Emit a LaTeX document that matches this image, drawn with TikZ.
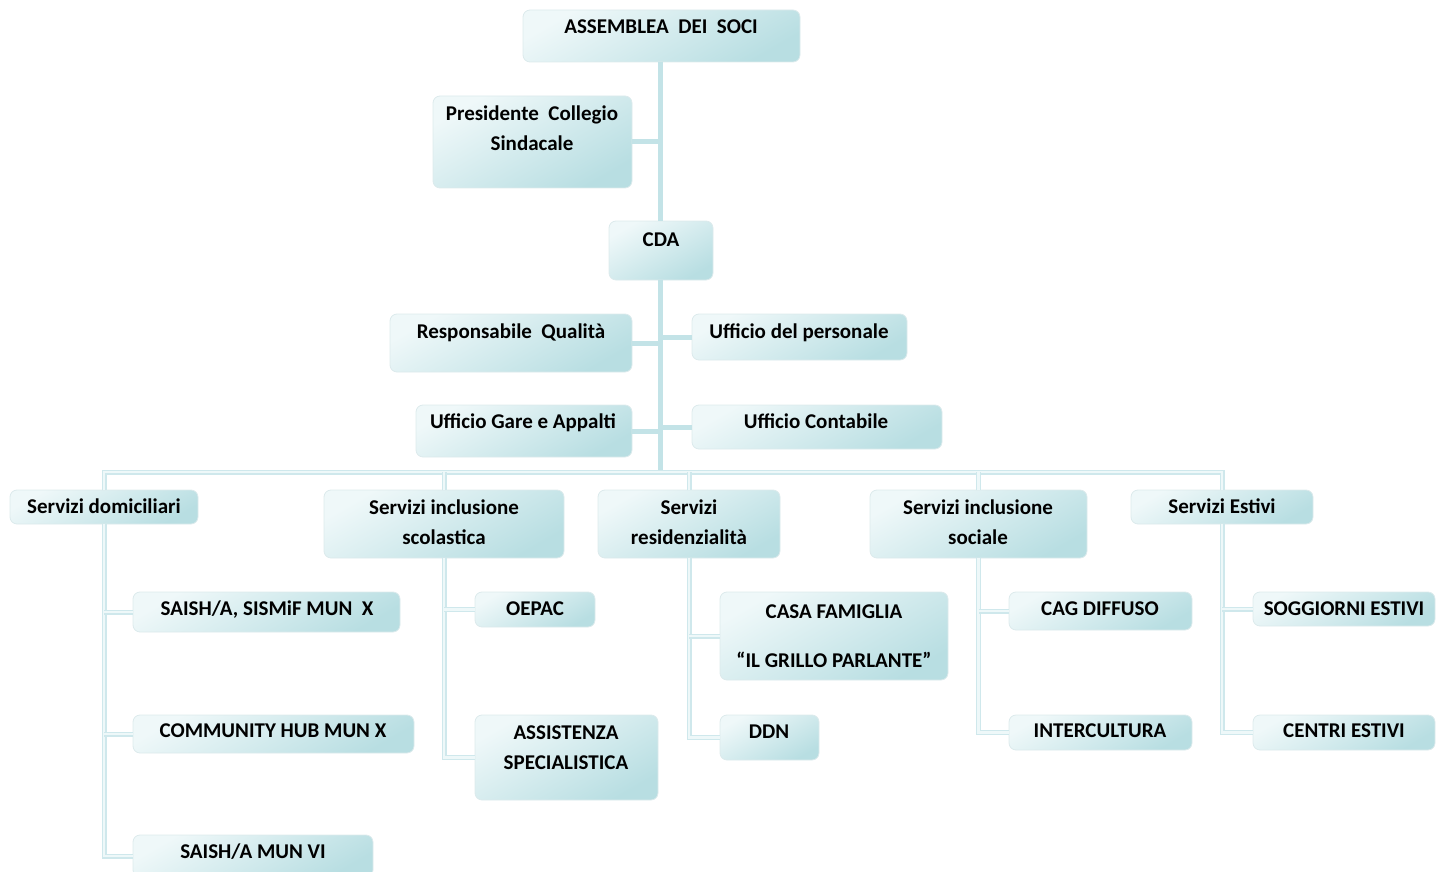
\documentclass[tikz,border=0pt]{standalone}
\usepackage{fontspec}
\setmainfont{Carlito}
\definecolor{boxA}{HTML}{EFF8F9}
\definecolor{boxB}{HTML}{B8DEE2}
\definecolor{boxline}{HTML}{DCEAEC}
\definecolor{trunkc}{HTML}{C3E3E7}
\definecolor{branchc}{HTML}{CFE8EC}
\definecolor{branchin}{HTML}{EEF8F9}
\tikzset{
  box/.style={draw=boxline, line width=0.8pt, rounded corners=7pt, inner sep=0pt, outer sep=0pt,
    left color=boxA, middle color=boxA!72!boxB, right color=boxB, shading angle=30},
  txt/.style={font=\bfseries\fontsize{21}{30}\selectfont, text=black, inner sep=0pt, anchor=base},
  trunk/.style={draw=trunkc, line width=5pt},
  branch/.style={draw=branchc, line width=1.2pt, double=branchin, double distance=2.6pt},
}
\newcommand\mybox[5]{\node[box, minimum width={#4pt-#2pt}, minimum height={#5pt-#3pt}] (#1) at ({(#2+#4)/2},{(#3+#5)/2}) {};}
\begin{document}
\begin{tikzpicture}[x=1pt,y=-1pt]
\useasboundingbox (0,0) rectangle (1444,872);
\clip (0,0) rectangle (1444,872);
\coordinate (bus) at (660,472);
\mybox{assem}{523}{10}{800}{62}
\mybox{pres}{433}{96}{632}{188}
\mybox{cda}{609}{221}{713}{280}
\mybox{qual}{390}{314}{632}{372}
\mybox{pers}{692}{314}{907}{360}
\mybox{gare}{416}{405}{632}{457}
\mybox{cont}{692}{405}{942}{449}
\mybox{sdom}{10}{490}{198}{524}
\mybox{ssco}{324}{490}{564}{558}
\mybox{sres}{598}{490}{780}{558}
\mybox{ssoc}{870}{490}{1087}{558}
\mybox{sest}{1131}{490}{1313}{524}
\mybox{dA}{133}{592}{400}{632}
\mybox{dB}{133}{715}{414}{753}
\mybox{dC}{133}{835}{373}{877}
\mybox{sA}{475}{592}{595}{627}
\mybox{sB}{475}{715}{658}{800}
\mybox{rA}{720}{592}{948}{680}
\mybox{rB}{720}{715}{819}{760}
\mybox{oA}{1009}{592}{1192}{630}
\mybox{oB}{1009}{715}{1192}{750}
\mybox{eA}{1253}{592}{1435}{626}
\mybox{eB}{1253}{715}{1435}{750}
\draw[trunk] (assem.south -| bus) -- (cda.north -| bus);
\draw[trunk] (cda.south -| bus) -- (bus);
\draw[trunk] (pres.east) -- (pres.east -| bus);
\draw[trunk] (qual.east) -- (qual.east -| bus);
\draw[trunk] (pers.west) -- (pers.west -| bus);
\draw[trunk] (gare.east) -- (gare.east -| bus);
\draw[trunk] (cont.west) -- (cont.west -| bus);
\draw[branch] (sdom.north) -- (sdom.north |- bus) -- (sest.north |- bus) -- (sest.north);
\draw[branch] (ssco.north) -- (ssco.north |- bus);
\draw[branch] (sres.north) -- (sres.north |- bus);
\draw[branch] (ssoc.north) -- (ssoc.north |- bus);
\draw[branch] (sdom.south) |- (dC.west);
\draw[branch] (sdom.south |- dA.west) -- (dA.west);
\draw[branch] (sdom.south |- dB.west) -- (dB.west);
\draw[branch] (ssco.south) |- (sB.west);
\draw[branch] (ssco.south |- sA.west) -- (sA.west);
\draw[branch] (sres.south) |- (rB.west);
\draw[branch] (sres.south |- rA.west) -- (rA.west);
\draw[branch] (ssoc.south) |- (oB.west);
\draw[branch] (ssoc.south |- oA.west) -- (oA.west);
\draw[branch] (sest.south) |- (eB.west);
\draw[branch] (sest.south |- eA.west) -- (eA.west);
\node[txt] (assem-t) at (661,34) {ASSEMBLEA\ \ DEI\ \ SOCI};
\node[txt] (pres-t1) at (532,121) {Presidente\ \ Collegio};
\node[txt] (pres-t2) at (532,151) {Sindacale};
\node[txt] (cda-t) at (661,246) {CDA};
\node[txt] (qual-t) at (511,338) {Responsabile\ \ Qualità};
\node[txt] (pers-t) at (799,338) {Ufficio del personale};
\node[txt] (gare-t) at (523,428) {Ufficio Gare e Appalti};
\node[txt] (cont-t) at (816,428) {Ufficio Contabile};
\node[txt] (sdom-t) at (104,513) {Servizi domiciliari};
\node[txt] (ssco-t1) at (444,514) {Servizi inclusione};
\node[txt] (ssco-t2) at (444,544) {scolastica};
\node[txt] (sres-t1) at (689,514) {Servizi};
\node[txt] (sres-t2) at (689,544) {residenzialità};
\node[txt] (ssoc-t1) at (978,514) {Servizi inclusione};
\node[txt] (ssoc-t2) at (978,544) {sociale};
\node[txt] (sest-t) at (1222,513) {Servizi Estivi};
\node[txt] (dA-t) at (267,615) {SAISH/A, SISMiF MUN\ \ X};
\node[txt] (dB-t) at (273,737) {COMMUNITY HUB MUN X};
\node[txt] (dC-t) at (253,858) {SAISH/A MUN VI};
\node[txt] (sA-t) at (535,615) {OEPAC};
\node[txt] (sB-t1) at (566,739) {ASSISTENZA};
\node[txt] (sB-t2) at (566,769) {SPECIALISTICA};
\node[txt] (rA-t1) at (834,618) {CASA FAMIGLIA};
\node[txt] (rA-t2) at (834,667) {“IL GRILLO PARLANTE”};
\node[txt] (rB-t) at (769,738) {DDN};
\node[txt] (oA-t) at (1100,615) {CAG DIFFUSO};
\node[txt] (oB-t) at (1100,737) {INTERCULTURA};
\node[txt] (eA-t) at (1344,615) {SOGGIORNI ESTIVI};
\node[txt] (eB-t) at (1344,737) {CENTRI ESTIVI};
\end{tikzpicture}
\end{document}
